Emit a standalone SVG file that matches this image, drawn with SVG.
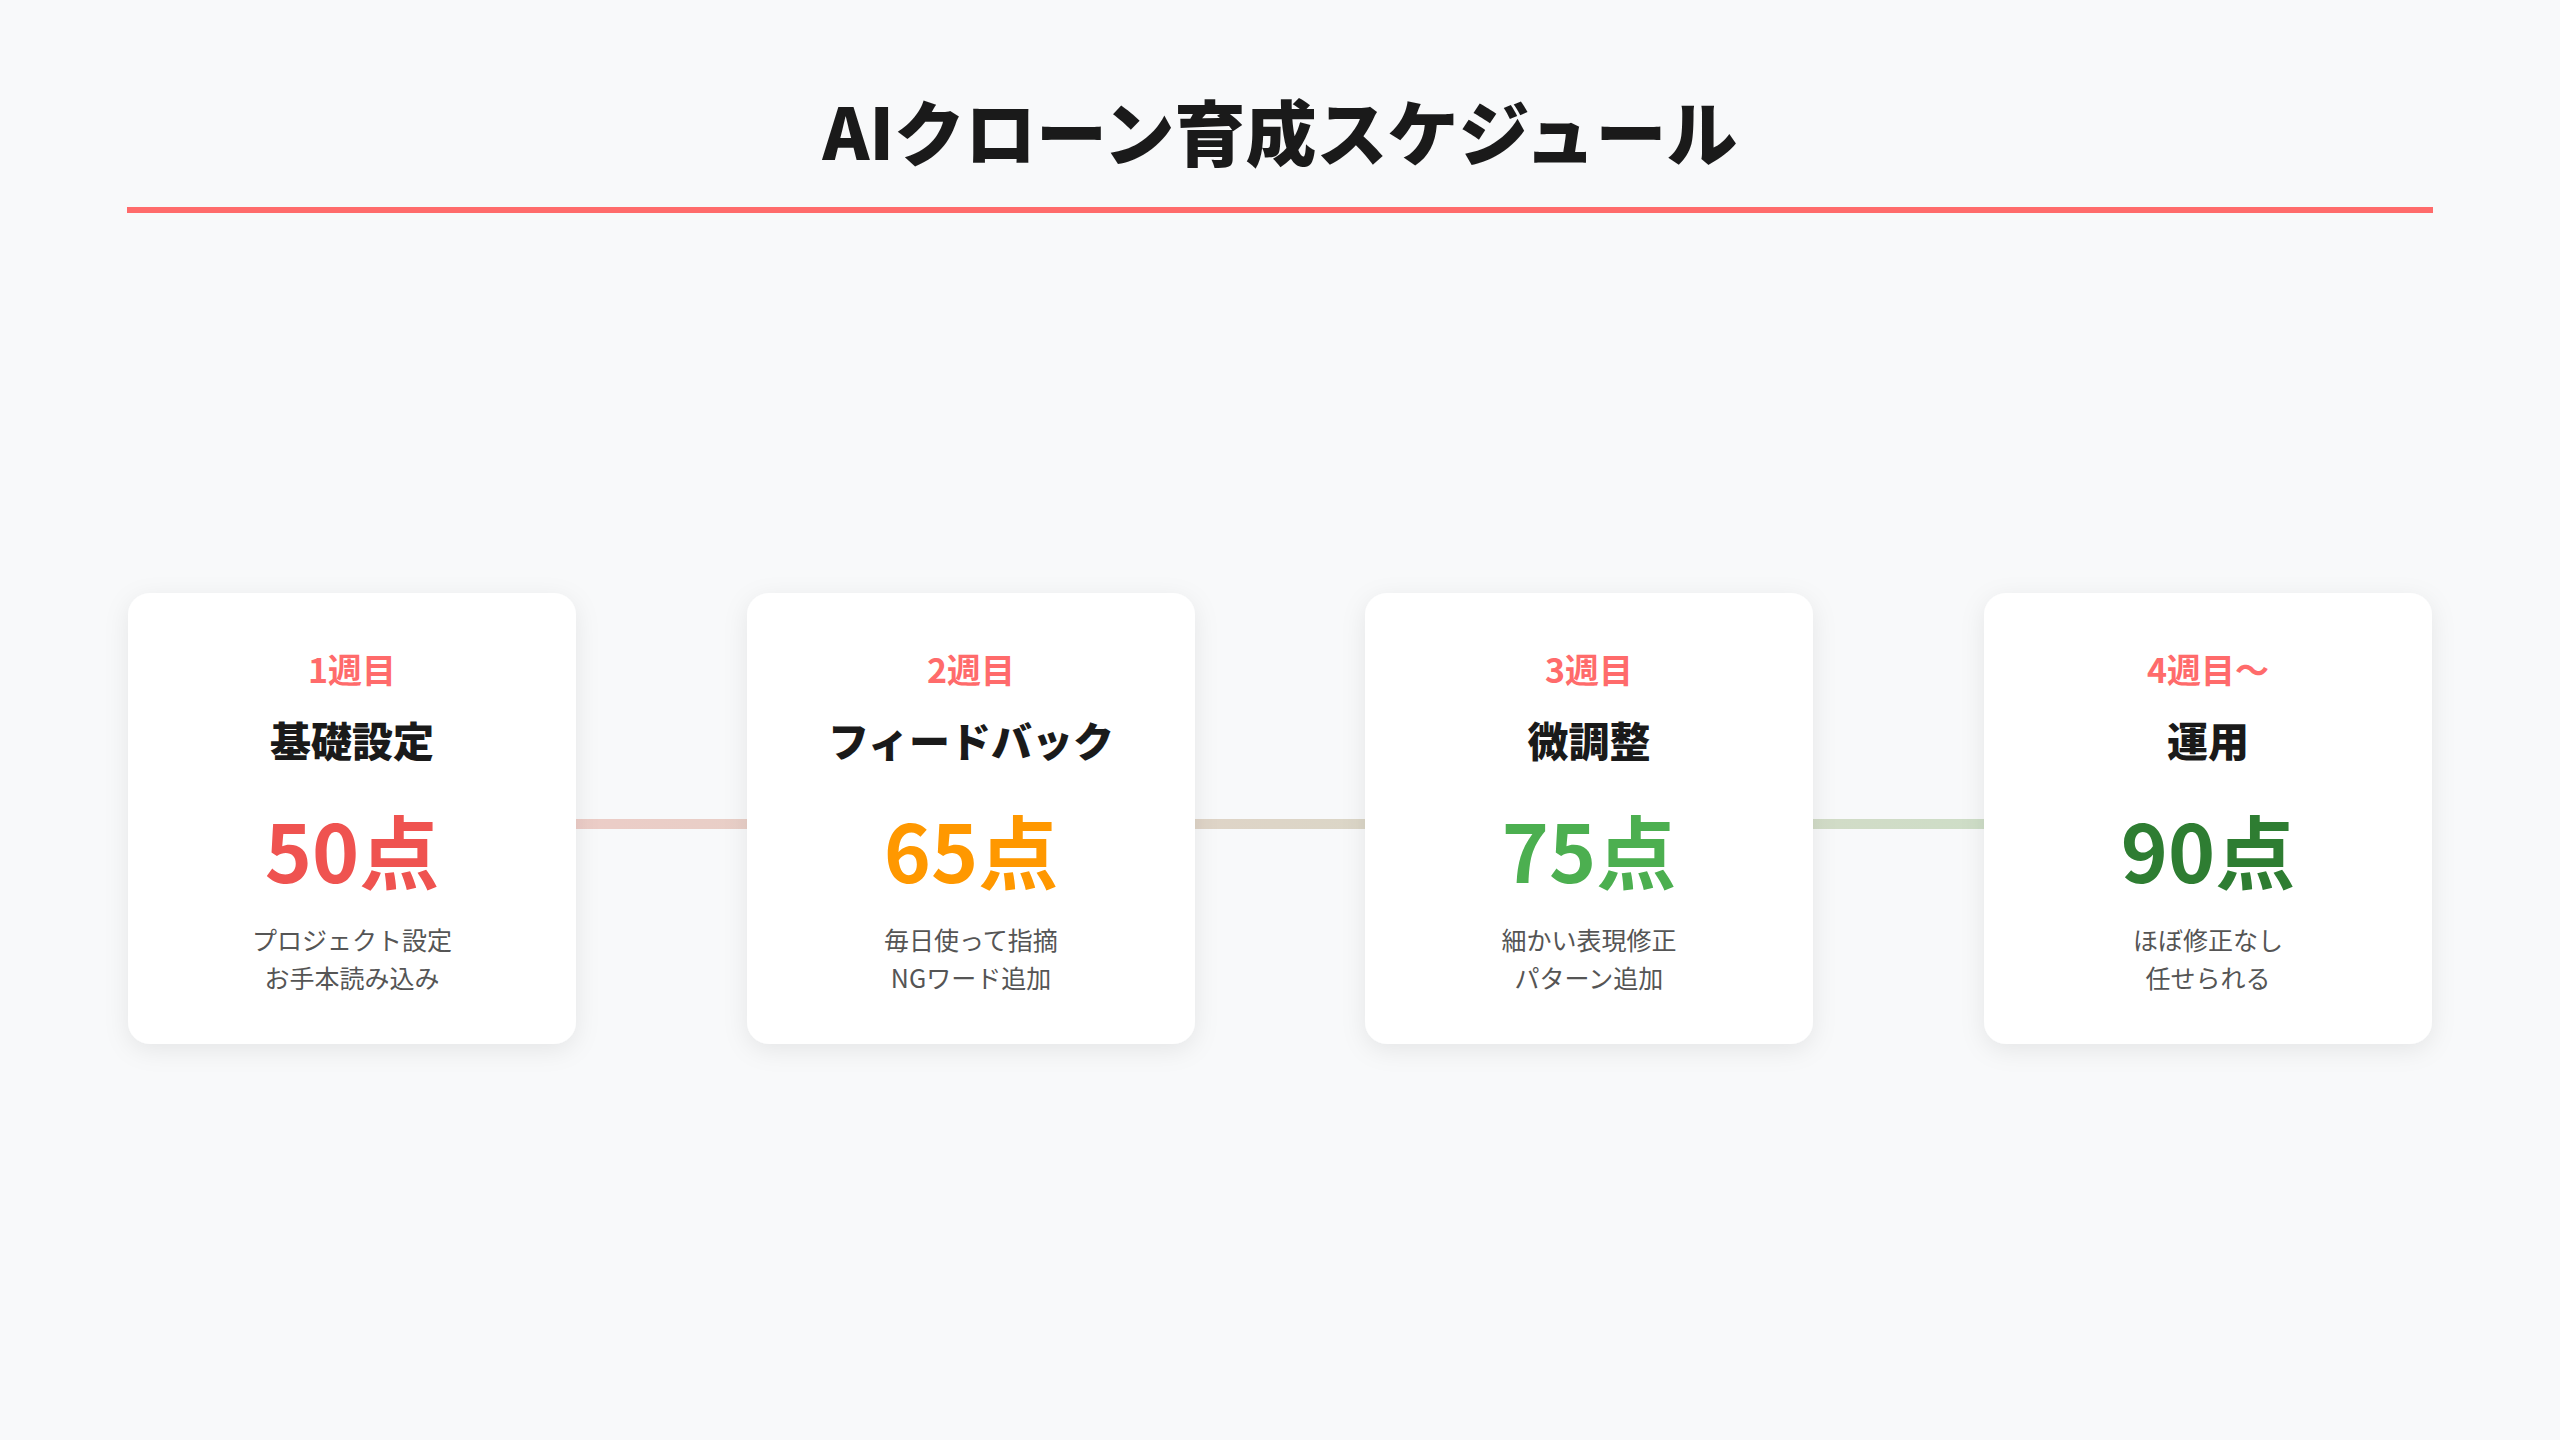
<svg xmlns="http://www.w3.org/2000/svg" width="2560" height="1440" viewBox="0 0 2560 1440">
<style>
text{font-family:"Noto Sans CJK JP","Noto Sans",sans-serif;text-anchor:middle}
.title{font-size:71px;font-weight:900;fill:#1a1a1a}
.week{font-size:34px;font-weight:700;fill:#ff6b6b}
.name{font-size:41px;font-weight:900;fill:#1a1a1a}
.score{font-size:80px;font-weight:700}
.desc{font-size:25px;font-weight:400;fill:#555555}
.card{fill:#ffffff}
</style>
<defs>
<filter id="sh" x="-20%" y="-20%" width="140%" height="140%">
<feDropShadow dx="0" dy="6" stdDeviation="12" flood-color="#000000" flood-opacity="0.08"/>
</filter>
<linearGradient id="lg" x1="128" y1="0" x2="2432" y2="0" gradientUnits="userSpaceOnUse">
<stop offset="0" stop-color="#ef5350"/>
<stop offset="1" stop-color="#4caf50"/>
</linearGradient>
</defs>
<rect width="2560" height="1440" fill="#f8f9fa"/>
<text class="title" x="1280" y="160">AIクローン育成スケジュール</text>
<rect x="127" y="207" width="2306" height="6" fill="#ff6b6b"/>
<g id="connectors">
<rect x="128" y="819" width="2304" height="10" fill="url(#lg)" opacity="0.3"/>
</g>
<g id="week1">
<rect class="card" x="128" y="593" width="448" height="451" rx="22" filter="url(#sh)"/>
<text class="week" x="352" y="683">1週目</text>
<text class="name" x="352" y="757">基礎設定</text>
<text class="score" x="352" y="883" fill="#ef5350">50点</text>
<text class="desc" x="352" y="950">プロジェクト設定</text>
<text class="desc" x="352" y="988">お手本読み込み</text>
</g>
<g id="week2">
<rect class="card" x="747" y="593" width="448" height="451" rx="22" filter="url(#sh)"/>
<text class="week" x="971" y="683">2週目</text>
<text class="name" x="971" y="757">フィードバック</text>
<text class="score" x="971" y="883" fill="#ff9800">65点</text>
<text class="desc" x="971" y="950">毎日使って指摘</text>
<text class="desc" x="971" y="988">NGワード追加</text>
</g>
<g id="week3">
<rect class="card" x="1365" y="593" width="448" height="451" rx="22" filter="url(#sh)"/>
<text class="week" x="1589" y="683">3週目</text>
<text class="name" x="1589" y="757">微調整</text>
<text class="score" x="1589" y="883" fill="#4caf50">75点</text>
<text class="desc" x="1589" y="950">細かい表現修正</text>
<text class="desc" x="1589" y="988">パターン追加</text>
</g>
<g id="week4">
<rect class="card" x="1984" y="593" width="448" height="451" rx="22" filter="url(#sh)"/>
<text class="week" x="2208" y="683">4週目〜</text>
<text class="name" x="2208" y="757">運用</text>
<text class="score" x="2208" y="883" fill="#2e7d32">90点</text>
<text class="desc" x="2208" y="950">ほぼ修正なし</text>
<text class="desc" x="2208" y="988">任せられる</text>
</g>
</svg>
